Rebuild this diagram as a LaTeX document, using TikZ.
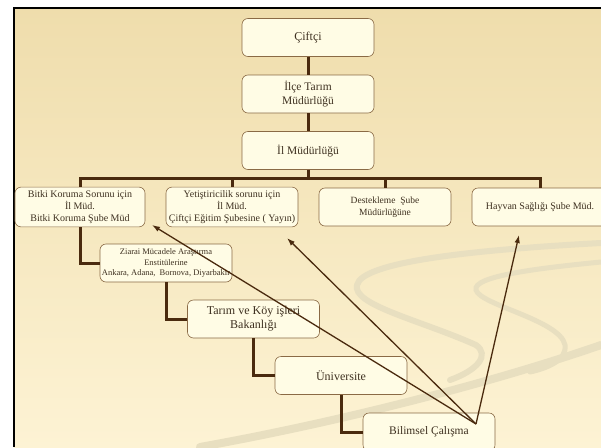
\documentclass[tikz,border=0pt]{standalone}
\usepackage{fontspec}
\setmainfont{Liberation Serif}
\usepackage{tikz}
\usetikzlibrary{arrows.meta}

\definecolor{slidetop}{HTML}{EFDDAC}
\definecolor{slidebot}{HTML}{FDF3D4}
\definecolor{boxfill}{HTML}{FFFCE5}
\definecolor{boxline}{HTML}{8A6A45}
\definecolor{linkbrown}{HTML}{4A2A0E}
\definecolor{textbrown}{HTML}{3E3020}
\definecolor{swirl}{HTML}{E8DFC0}

\begin{document}
\begin{tikzpicture}[x=1pt, y=-1pt,
        unit/.style={draw=boxline, line width=0.6pt, fill=boxfill, rounded corners=6pt,
            minimum width=132pt, minimum height=38pt, align=center, inner xsep=2pt,
            text=textbrown, font=\fontsize{10}{12}\selectfont},
        link/.style={draw=linkbrown, line width=3pt},
        hint/.style={draw=linkbrown, line width=1.3pt, -{Latex[length=8pt,width=5.5pt]}},
        swoosh/.style={draw=swirl, line cap=round}]
    \useasboundingbox (0,0) rectangle (601,447);
    % slide background
    \fill[white] (0,0) rectangle (601,447);
    \shade[top color=slidetop, bottom color=slidebot] (14,8) rectangle (601,447);
    \draw[black, line width=2.5pt] (14,447) -- (14,8) -- (601,8);
    \draw[swoosh, line width=6pt] (601,243) .. controls (470,250) and (362,262) .. (357,285)
        .. controls (352,305) and (420,320) .. (476,345) .. controls (490,355) and (478,370) .. (450,380);
    \draw[swoosh, line width=5pt] (601,262) .. controls (540,268) and (472,276) .. (476,290)
        .. controls (480,305) and (560,320) .. (565,345) .. controls (567,360) and (548,368) .. (530,372);
    \draw[swoosh, line width=8pt] (200,447) .. controls (350,420) and (500,380) .. (601,345);

    % boxes
    \node[unit, font=\fontsize{12}{14}\selectfont] (ciftci) at (308,37.5) {Çiftçi};
    \node[unit, font=\fontsize{11.5}{14}\selectfont] (ilce) at (308,94) {İlçe Tarım\\Müdürlüğü};
    \node[unit, font=\fontsize{11.5}{14}\selectfont] (ilmud) at (308,150.5) {İl Müdürlüğü};
    \node[unit, minimum width=130pt] (bitki) at (80,207) {Bitki Koruma Sorunu için\\İl Müd.\\Bitki Koruma Şube Müd};
    \node[unit] (yetis) at (232,207) {Yetiştiricilik sorunu için\\İl Müd.\\Çiftçi Eğitim Şubesine ( Yayın)};
    \node[unit, font=\fontsize{9.5}{12}\selectfont] (destek) at (385,207) {Destekleme~ Şube\\Müdürlüğüne};
    \node[unit, minimum width=136pt] (hayvan) at (540,207) {Hayvan Sağlığı Şube Müd.};
    \node[unit, inner xsep=0pt, font=\fontsize{8.5}{10.5}\selectfont] (ziarai) at (166,263)
        {Ziarai Mücadele Araştırma\\Enstitülerine\\Ankara, Adana,~ Bornova, Diyarbakır};
    \node[unit, font=\fontsize{12}{14}\selectfont] (tarim) at (253.5,319) {Tarım ve Köy işleri\\Bakanlığı};
    \node[unit, font=\fontsize{12}{14}\selectfont] (univ) at (341,375.5) {Üniversite};
    \node[unit, font=\fontsize{11.5}{14}\selectfont] (bilimsel) at (429,432) {Bilimsel Çalışma};

    % tree links
    \coordinate (bus) at (308,178);
    \draw[link] (ciftci) -- (ilce);
    \draw[link] (ilce) -- (ilmud);
    \draw[link] (ilmud) -- (bus);
    \foreach \b in {bitki,yetis,destek,hayvan}
        \draw[link] (bus) -| (\b.north);
    \draw[link] (bitki.south) |- (ziarai.west);
    \draw[link] (ziarai.south) |- (tarim.west);
    \draw[link] (tarim.south) |- (univ.west);
    \draw[link] (univ.south) |- (bilimsel.west);

    % arrows from research
    \coordinate (src) at (476,424);
    \coordinate (tbitki) at (152,225);
    \coordinate (tyetis) at (287,238);
    \coordinate (thayvan) at (519,235);
    \foreach \t in {tbitki,tyetis,thayvan}
        \draw[hint] (src) -- (\t);
\end{tikzpicture}
\end{document}
